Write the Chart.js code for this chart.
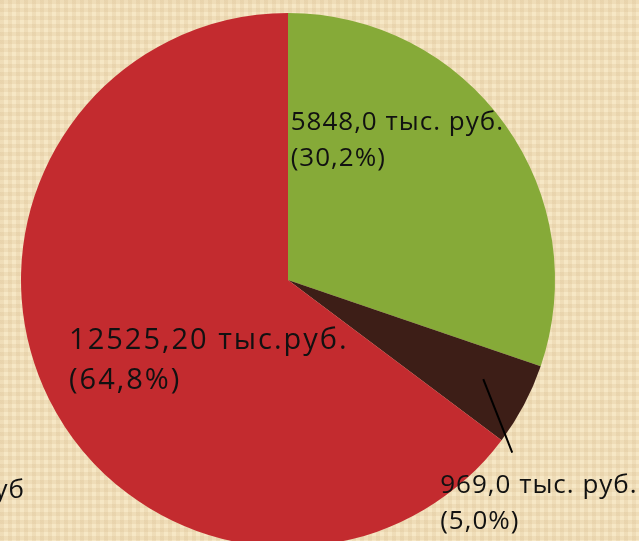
<!DOCTYPE html>
<html>
<head>
<meta charset="utf-8">
<script src="https://cdn.jsdelivr.net/npm/chart.js@4"></script>
<style>
    html, body {
        margin: 0;
        padding: 0;
        width: 639px;
        height: 541px;
        overflow: hidden;
        background-color: #f6e7c5;
        background-image:
            linear-gradient(90deg, rgba(205,175,125,0.18) 50%, transparent 50%),
            linear-gradient(rgba(205,175,125,0.18) 50%, transparent 50%);
        background-size: 8px 8px;
    }
    #wrap {
        position: absolute;
        left: 0;
        top: 0;
        width: 639px;
        height: 560px;
    }
</style>
</head>
<body>
<div id="wrap"><canvas id="graficoPizza"></canvas></div>
<script>
// Dados do gráfico (тыс. руб.)
const categorias = ["A", "B", "C"];
const valores = [5848.0, 969.0, 12525.2];
const rotulos = [
    ["5848,0 тыс. руб.", "(30,2%)"],
    ["969,0 тыс. руб.", "(5,0%)"],
    ["12525,20 тыс.руб.", "(64,8%)"]
];
const cores = ["#86aa38", "#3d1e17", "#c32b2f"];

// Posições dos rótulos relativas ao centro, em frações do raio
const posRotulos = [
    { dx: 0.01, dy: -0.64, tam: 26, esp: 1, linha: 36 },
    { dx: 0.57, dy: 0.72, tam: 26, esp: 1, linha: 36 },
    { dx: -0.82, dy: 0.175, tam: 29, esp: 2, linha: 40 }
];

const rotulosPlugin = {
    id: "rotulos",
    afterDraw(chart) {
        const meta = chart.getDatasetMeta(0);
        const arco = meta.data[0];
        const cx = arco.x, cy = arco.y, r = arco.outerRadius;
        const ctx = chart.ctx;
        ctx.save();
        ctx.fillStyle = "#111";
        ctx.textBaseline = "top";
        ctx.textAlign = "left";
        rotulos.forEach((linhas, i) => {
            const p = posRotulos[i];
            ctx.font = `${p.tam}px 'Open Sans', sans-serif`;
            ctx.letterSpacing = `${p.esp}px`;
            const x = cx + p.dx * r;
            const y = cy + p.dy * r;
            linhas.forEach((txt, j) => {
                ctx.fillText(txt, x, y + j * p.linha);
            });
        });

        // linha de chamada da fatia pequena
        const a = meta.data[1];
        const ang = (a.startAngle + a.endAngle) / 2;
        ctx.strokeStyle = "#000";
        ctx.lineWidth = 2;
        ctx.beginPath();
        ctx.moveTo(cx + Math.cos(ang - 0.017) * r * 0.82, cy + Math.sin(ang - 0.017) * r * 0.82);
        ctx.lineTo(cx + Math.cos(ang + 0.17) * r * 1.06, cy + Math.sin(ang + 0.17) * r * 1.06);
        ctx.stroke();

        // rótulo cortado à esquerda
        ctx.font = "26px 'Open Sans', sans-serif";
        ctx.letterSpacing = "1px";
        ctx.textAlign = "right";
        ctx.fillText("руб", cx - r * 0.985, cy + r * 0.74);
        ctx.restore();
    }
};

const ctx = document.getElementById("graficoPizza").getContext("2d");
new Chart(ctx, {
    type: "pie",
    data: {
        labels: categorias,
        datasets: [{
            data: valores,
            backgroundColor: cores,
            borderWidth: 0
        }]
    },
    plugins: [rotulosPlugin],
    options: {
        responsive: true,
        maintainAspectRatio: false,
        animation: false,
        layout: {
            padding: { left: 21, top: 13, right: 84, bottom: 13 }
        },
        plugins: {
            legend: { display: false },
            tooltip: { enabled: false }
        }
    }
});
</script>
</body>
</html>
